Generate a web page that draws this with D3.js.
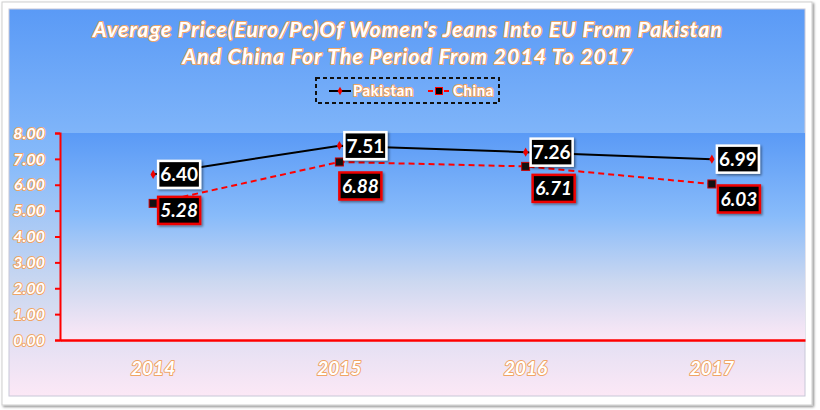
<!DOCTYPE html>
<html>
<head>
<meta charset="utf-8">
<script src="https://cdn.jsdelivr.net/npm/d3@7"></script>
<style>
  body { margin: 0; background: #fff; }
  svg { display: block; font-family: Lato, "Noto Sans", sans-serif; }
</style>
</head>
<body>
<div id="chart"></div>
<script>
// data
const years = ["2014", "2015", "2016", "2017"];
const pakistan = [6.40, 7.51, 7.26, 6.99];
const china = [5.28, 6.88, 6.71, 6.03];
const yTicks = [0, 1, 2, 3, 4, 5, 6, 7, 8];
const titleLines = [
  "Average Price(Euro/Pc)Of Women's Jeans Into EU From Pakistan",
  "And China For The Period From 2014 To 2017"
];

const W = 820, H = 410;
const margin = {top: 133, right: 15, bottom: 70, left: 60};
const width = 805 - margin.left,
      height = 340 - margin.top;

const root = d3.select("#chart").append("svg")
    .attr("width", W)
    .attr("height", H);

const defs = root.append("defs");

// background gradient
function addGrad(id) {
  const g = defs.append("linearGradient")
      .attr("id", id)
      .attr("x1", 0).attr("y1", 0).attr("x2", 0).attr("y2", 1);
  g.append("stop").attr("offset", "0%").attr("stop-color", "#5a9af6");
  g.append("stop").attr("offset", "40%").attr("stop-color", "#88bbfa");
  g.append("stop").attr("offset", "72%").attr("stop-color", "#ccd8f0");
  g.append("stop").attr("offset", "100%").attr("stop-color", "#fce8f6");
}
addGrad("bgGrad");
addGrad("plotGrad");

const shadow = defs.append("filter").attr("id", "shadow")
    .attr("x", "-10%").attr("y", "-10%").attr("width", "130%").attr("height", "140%");
shadow.append("feDropShadow").attr("dx", 1.5).attr("dy", 1.5)
    .attr("stdDeviation", 1).attr("flood-color", "#000").attr("flood-opacity", 0.45);

// outer frame
root.append("rect")
    .attr("x", 2).attr("y", 2).attr("width", 810).attr("height", 403)
    .attr("fill", "#fff")
    .attr("stroke", "#cfcfcf")
    .attr("filter", "url(#shadow)");

// chart area
root.append("rect")
    .attr("x", 9).attr("y", 9).attr("width", 796).attr("height", 387)
    .attr("fill", "url(#bgGrad)")
    .attr("stroke", "#c8c8d8");

const svg = root.append("g")
    .attr("transform", `translate(${margin.left}, ${margin.top})`);

// plot area
svg.append("rect")
    .attr("width", width).attr("height", height)
    .attr("fill", "url(#plotGrad)");

// scales
const x = d3.scaleBand().domain(years).range([0, width]);
const y = d3.scaleLinear().domain([0, 8]).range([height, 0]);
const cx = d => x(d) + x.bandwidth() / 2;

// outlined text style helper
function outlined(sel, sw) {
  return sel.attr("fill", "#fff")
      .attr("stroke", "#f0a565")
      .attr("stroke-width", sw)
      .attr("paint-order", "stroke")
      .attr("stroke-linejoin", "round");
}

// title
root.append("g").selectAll("text")
    .data(titleLines)
    .join("text")
      .attr("x", 408)
      .attr("y", (d, i) => 37 + i * 27)
      .attr("text-anchor", "middle")
      .attr("font-size", 21)
      .attr("font-weight", "bold")
      .attr("font-style", "italic")
      .attr("letter-spacing", 1.1)
      .text(d => d)
      .call(outlined, 2);

// legend
const legend = root.append("g").attr("transform", "translate(316, 78)");
legend.append("rect")
    .attr("width", 183).attr("height", 25)
    .attr("fill", "none")
    .attr("stroke", "#111")
    .attr("stroke-width", 2)
    .attr("stroke-dasharray", "4,3");
const lp = legend.append("g").attr("transform", "translate(13, 13)");
lp.append("line").attr("x1", 0).attr("x2", 22).attr("stroke", "#000").attr("stroke-width", 2);
lp.append("path").attr("d", d3.symbol(d3.symbolDiamond, 20)()).attr("transform", "translate(11,0)").attr("fill", "#e00");
lp.append("text").attr("x", 24).attr("y", 5).attr("font-size", 15).attr("font-weight", "bold")
    .attr("letter-spacing", 0.5)
    .text("Pakistan").call(outlined, 2);
const lc = legend.append("g").attr("transform", "translate(112, 13)");
lc.append("line").attr("x1", 0).attr("x2", 22).attr("stroke", "#f00").attr("stroke-width", 2).attr("stroke-dasharray", "5,3");
lc.append("rect").attr("x", 7.5).attr("y", -3.5).attr("width", 7).attr("height", 7).attr("fill", "#000").attr("stroke", "#f00");
lc.append("text").attr("x", 25).attr("y", 5).attr("font-size", 15).attr("font-weight", "bold")
    .attr("letter-spacing", 0.5)
    .text("China").call(outlined, 2);

// y axis
const yAxis = svg.append("g")
    .call(d3.axisLeft(y).tickValues(yTicks).tickFormat(d3.format(".2f")).tickSize(5).tickPadding(10));
yAxis.select(".domain").attr("stroke", "#f00").attr("stroke-width", 2);
yAxis.selectAll(".tick line").attr("stroke", "#f00").attr("stroke-width", 2);
yAxis.selectAll(".tick text")
    .attr("font-size", 16)
    .attr("font-weight", "bold")
    .attr("font-style", "italic")
    .attr("font-family", "Lato, sans-serif")
    .call(outlined, 2);

// x axis
const xAxis = svg.append("g")
    .attr("transform", `translate(0, ${height})`)
    .call(d3.axisBottom(x).tickSize(0).tickPadding(22));
xAxis.select(".domain").attr("stroke", "#f00").attr("stroke-width", 2.5);
xAxis.selectAll(".tick text")
    .attr("font-size", 19)
    .attr("font-weight", "bold")
    .attr("font-style", "italic")
    .attr("font-family", "Lato, sans-serif")
    .call(outlined, 2);

// lines
const line = d3.line().x((d, i) => cx(years[i])).y(d => y(d));

svg.append("path")
    .datum(china)
    .attr("fill", "none")
    .attr("stroke", "#f00")
    .attr("stroke-width", 2)
    .attr("stroke-dasharray", "6,4")
    .attr("d", line);

svg.append("path")
    .datum(pakistan)
    .attr("fill", "none")
    .attr("stroke", "#000")
    .attr("stroke-width", 2)
    .attr("d", line);

// markers
svg.append("g").selectAll("path")
    .data(pakistan)
    .join("path")
      .attr("d", d3.symbol(d3.symbolDiamond, 24)())
      .attr("transform", (d, i) => `translate(${cx(years[i])}, ${y(d)})`)
      .attr("fill", "#e00");

svg.append("g").selectAll("rect")
    .data(china)
    .join("rect")
      .attr("x", (d, i) => cx(years[i]) - 4)
      .attr("y", d => y(d) - 4)
      .attr("width", 8).attr("height", 8)
      .attr("fill", "#111")
      .attr("stroke", "#c00")
      .attr("stroke-width", 1);

// data labels
function labels(data, offsets, border, italic) {
  const g = svg.append("g").selectAll("g")
      .data(data)
      .join("g")
        .attr("transform", (d, i) => `translate(${cx(years[i]) + offsets[i][0]}, ${y(d) + offsets[i][1]})`);
  g.append("rect")
      .attr("x", -21).attr("y", -13.5)
      .attr("width", 42).attr("height", 27)
      .attr("fill", "#000")
      .attr("stroke", border)
      .attr("stroke-width", 2.5)
      .attr("filter", "url(#shadow)");
  g.append("text")
      .attr("text-anchor", "middle")
      .attr("dy", "0.36em")
      .attr("fill", "#fff")
      .attr("font-size", 19)
      .attr("font-weight", "bold")
      .attr("font-style", italic ? "italic" : "normal")
      .text(d => d.toFixed(2));
}
labels(pakistan, [[26, 0], [26, 0], [26, 0], [26, 0]], "#fff", false);
labels(china, [[26, 7], [21, 24], [28, 22], [27, 15]], "#e00", true);
</script>
</body>
</html>
